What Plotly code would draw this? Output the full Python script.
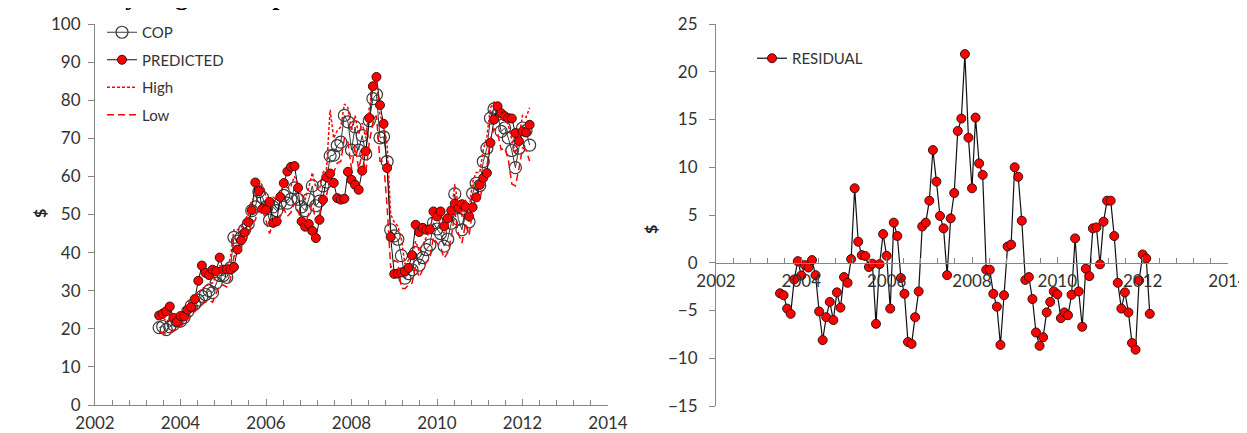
import plotly.graph_objects as go
import pandas as pd

# Monthly observations, Jul 2003 - Mar 2012
MONTHS = pd.date_range("2003-07-01", periods=105, freq="MS")

COP = [20.3, 20.6, 19.8, 20.5, 21.1, 22.0, 22.0, 23.0, 24.5, 26.0,
       26.5, 27.5, 28.5, 29.0, 30.0, 29.5, 32.0, 34.0, 34.0, 33.5,
       36.0, 44.0, 43.0, 44.0, 46.0, 47.5, 51.0, 52.0, 56.0, 54.5,
       52.0, 48.5, 52.0, 51.0, 53.0, 55.0, 53.0, 54.0, 57.0, 54.0,
       52.0, 51.0, 54.0, 57.5, 52.3, 53.5, 57.5, 58.5, 65.4, 65.6,
       68.1, 69.0, 76.0, 74.3, 66.9, 73.0, 66.9, 70.7, 65.9, 74.6,
       80.4, 81.5, 70.1, 70.4, 63.9, 46.0, 44.4, 43.5, 39.2, 33.3,
       34.5, 35.5, 40.0, 36.7, 38.7, 40.8, 42.0, 47.8, 46.2, 45.0,
       41.7, 43.5, 47.7, 55.4, 48.7, 46.0, 51.4, 48.1, 55.5, 58.2,
       57.6, 63.9, 67.4, 75.3, 77.7, 76.3, 71.8, 72.7, 70.1, 66.8,
       62.3, 67.4, 72.7, 72.0, 68.2]

PREDICTED = [23.5, 24.0, 24.6, 25.85, 22.85, 21.83, 23.33, 23.25, 25.0, 25.72,
             27.8, 32.6, 36.6, 34.7, 34.1, 35.5, 35.1, 38.7, 35.5, 35.6,
             35.62, 36.2, 40.8, 43.2, 45.3, 47.95, 51.1, 58.4, 56.15, 51.5,
             51.27, 53.3, 47.8, 48.2, 54.6, 58.25, 61.3, 62.5, 62.7, 57.0,
             48.2, 46.8, 47.5, 45.7, 43.8, 48.6, 53.9, 59.8, 60.75, 58.3,
             54.3, 53.9, 54.15, 61.2, 59.1, 57.8, 56.5, 61.5, 66.63, 75.33,
             83.65, 86.1, 78.7, 73.8, 62.2, 44.1, 34.4, 34.5, 34.8, 35.1,
             36.0, 39.3, 47.3, 45.4, 46.5, 46.0, 46.1, 50.8, 49.5, 50.8,
             46.9, 49.0, 51.05, 52.85, 51.7, 52.7, 52.03, 49.5, 51.9, 54.5,
             57.77, 59.6, 60.9, 68.8, 74.9, 78.4, 76.6, 75.8, 75.3, 75.2,
             71.4, 69.25, 71.83, 71.55, 73.55]

HIGH = [22.5, 23.0, 22.0, 22.5, 23.5, 24.0, 24.0, 25.0, 26.5, 28.0,
        28.5, 29.5, 30.5, 31.0, 32.0, 32.0, 34.0, 36.5, 36.5, 36.0,
        38.5, 46.0, 46.0, 46.5, 48.5, 50.0, 53.5, 55.0, 59.0, 57.5,
        55.0, 52.0, 54.5, 54.0, 55.5, 58.0, 57.0, 57.5, 60.0, 58.0,
        55.0, 54.0, 57.0, 61.0, 57.0, 56.5, 61.0, 62.0, 77.5, 70.0,
        72.0, 73.0, 79.0, 78.0, 72.0, 76.0, 71.0, 74.0, 70.0, 78.0,
        84.0, 85.5, 76.0, 74.0, 68.0, 50.0, 48.0, 47.0, 43.5, 37.0,
        38.0, 39.0, 43.0, 40.5, 42.0, 44.0, 45.5, 51.0, 49.5, 48.5,
        45.0, 47.0, 50.5, 58.0, 52.0, 49.5, 54.0, 51.5, 58.5, 61.0,
        61.0, 67.0, 70.5, 78.0, 79.5, 79.0, 75.0, 75.5, 73.5, 70.0,
        66.0, 70.0, 76.0, 75.5, 78.0]

LOW = [19.0, 19.0, 18.5, 19.0, 19.5, 20.5, 20.5, 21.5, 22.5, 24.0,
       24.5, 25.5, 26.5, 27.0, 27.5, 27.0, 29.5, 31.5, 31.5, 31.0,
       33.0, 39.0, 40.0, 41.0, 43.0, 44.5, 47.5, 48.5, 52.0, 51.0,
       48.5, 45.0, 48.0, 47.5, 49.5, 51.5, 49.5, 50.5, 53.0, 50.5,
       48.5, 47.5, 50.5, 53.0, 48.0, 50.0, 53.5, 55.0, 60.0, 61.0,
       63.5, 64.0, 70.0, 69.0, 62.0, 68.0, 62.0, 66.0, 61.0, 69.0,
       74.0, 76.0, 64.0, 64.0, 52.0, 36.0, 38.0, 37.5, 30.7, 30.5,
       31.5, 32.0, 36.5, 33.5, 35.5, 37.5, 38.5, 44.0, 42.5, 41.5,
       38.5, 40.0, 44.0, 50.5, 45.0, 42.5, 47.5, 44.5, 51.0, 54.0,
       53.5, 59.0, 62.5, 70.0, 72.5, 71.5, 67.0, 67.5, 64.5, 58.0,
       57.5, 62.0, 67.5, 67.0, 64.0]

RESIDUAL = [-3.2, -3.4, -4.8, -5.35, -1.75, 0.17, -1.33, -0.25, -0.5, 0.28,
            -1.3, -5.1, -8.1, -5.7, -4.1, -6.0, -3.1, -4.7, -1.5, -2.1,
            0.38, 7.8, 2.2, 0.8, 0.7, -0.45, -0.1, -6.4, -0.15, 3.0,
            0.73, -4.8, 4.2, 2.8, -1.6, -3.25, -8.3, -8.5, -5.7, -3.0,
            3.8, 4.2, 6.5, 11.8, 8.5, 4.9, 3.6, -1.3, 4.65, 7.3,
            13.8, 15.1, 21.85, 13.1, 7.8, 15.2, 10.4, 9.2, -0.73, -0.73,
            -3.25, -4.6, -8.6, -3.4, 1.7, 1.9, 10.0, 9.0, 4.4, -1.8,
            -1.5, -3.8, -7.3, -8.7, -7.8, -5.2, -4.1, -3.0, -3.3, -5.8,
            -5.2, -5.5, -3.35, 2.55, -3.0, -6.7, -0.63, -1.4, 3.6, 3.7,
            -0.17, 4.3, 6.5, 6.5, 2.8, -2.1, -4.8, -3.1, -5.2, -8.4,
            -9.1, -1.85, 0.87, 0.45, -5.35]

TITLE = "Monthly Regression plot"

X = [d.year + (d.month - 1) / 12 for d in MONTHS]

W, H = 1247, 433
FONT = "Lato"
AX = "#868686"
TXT = "#333333"


def px(x):
    return x / W


def py(y):
    return 1 - y / H


fig = go.Figure()
fig.add_trace(go.Scatter(
    x=X, y=COP, name="COP", mode="lines+markers", legend="legend", legendgroup="a",
    line=dict(color="#3a3a3a", width=1),
    marker=dict(symbol="circle-open", size=12, color="#3a3a3a", line=dict(width=1.2)),
    xaxis="x", yaxis="y"))
fig.add_trace(go.Scatter(
    x=X, y=PREDICTED, name="PREDICTED", mode="lines+markers", legend="legend", legendgroup="b",
    line=dict(color="#111111", width=1),
    marker=dict(symbol="circle", size=9, color="#FF0000", line=dict(color="#3a1010", width=1)),
    xaxis="x", yaxis="y"))
fig.add_trace(go.Scatter(
    x=X, y=HIGH, name="High", mode="lines", legend="legend", legendgroup="c",
    line=dict(color="#FF0000", width=1.5, dash="3px,2px"),
    xaxis="x", yaxis="y"))
fig.add_trace(go.Scatter(
    x=X, y=LOW, name="Low", mode="lines", legend="legend", legendgroup="d",
    line=dict(color="#FF0000", width=1.5, dash="7px,4px"),
    xaxis="x", yaxis="y"))
fig.add_trace(go.Scatter(
    x=X, y=RESIDUAL, name="RESIDUAL", mode="lines+markers", legend="legend2",
    line=dict(color="#111111", width=1.2),
    marker=dict(symbol="circle", size=9, color="#FF0000", line=dict(color="#3a1010", width=1)),
    xaxis="x2", yaxis="y2"))

xcommon = dict(range=[2002, 2014], dtick=2, tick0=2002, showline=True, linecolor=AX, linewidth=1,
               ticks="inside", ticklen=6, tickcolor=AX, showgrid=False, zeroline=False,
               automargin=False, ticklabelstandoff=3,
               tickfont=dict(family=FONT, size=17, color=TXT),
               minor=dict(dtick=0.4, tick0=2002, ticks="inside", ticklen=5, tickcolor=AX, showgrid=False))
ycommon = dict(showline=True, linecolor=AX, linewidth=1, ticks="outside", ticklen=6, tickcolor=AX,
               showgrid=False, zeroline=False, automargin=False,
               tickfont=dict(family=FONT, size=17, color=TXT))

fig.update_layout(
    width=W, height=H, margin=dict(l=0, r=0, t=0, b=0, pad=0, autoexpand=False),
    paper_bgcolor="white", plot_bgcolor="white",
    font=dict(family=FONT, color=TXT),
    xaxis=dict(domain=[px(87), px(600)], anchor="y", **xcommon),
    yaxis=dict(domain=[py(397), py(16)], range=[0, 100], dtick=10, anchor="x",
               ticklabelstandoff=4, **ycommon),
    xaxis2=dict(domain=[px(708), px(1220)], anchor="free", position=py(255), **xcommon),
    yaxis2=dict(domain=[py(398), py(16)], range=[-15, 25], dtick=5, anchor="x2",
                ticklabelstandoff=8, **ycommon),
    legend=dict(x=px(94), y=py(8), xanchor="left", yanchor="top", bgcolor="rgba(0,0,0,0)",
                font=dict(family=FONT, size=15, color=TXT), tracegroupgap=5),
    legend2=dict(x=px(744), y=py(34), xanchor="left", yanchor="top", bgcolor="rgba(0,0,0,0)",
                 font=dict(family=FONT, size=15, color=TXT)),
    showlegend=True,
)

fig.add_annotation(text="<b>$</b>", x=px(32), y=py(206), xref="paper", yref="paper", showarrow=False,
                   xanchor="center", yanchor="middle",
                   textangle=-90, font=dict(family=FONT, size=16, color="#222222"))
fig.add_annotation(text="<b>$</b>", x=px(642), y=py(222), xref="paper", yref="paper", showarrow=False,
                   xanchor="center", yanchor="middle",
                   textangle=-90, font=dict(family=FONT, size=16, color="#222222"))

# caption line of the source page, cropped at the top edge so only its lowest parts show
fig.add_annotation(text="<b>" + TITLE + "</b>", x=px(33), y=1, xref="paper", yref="paper",
                   xanchor="left", yanchor="bottom", yshift=-5, showarrow=False,
                   font=dict(family="Liberation Serif", size=26, color="#000000"))

fig.write_html("out.html")
